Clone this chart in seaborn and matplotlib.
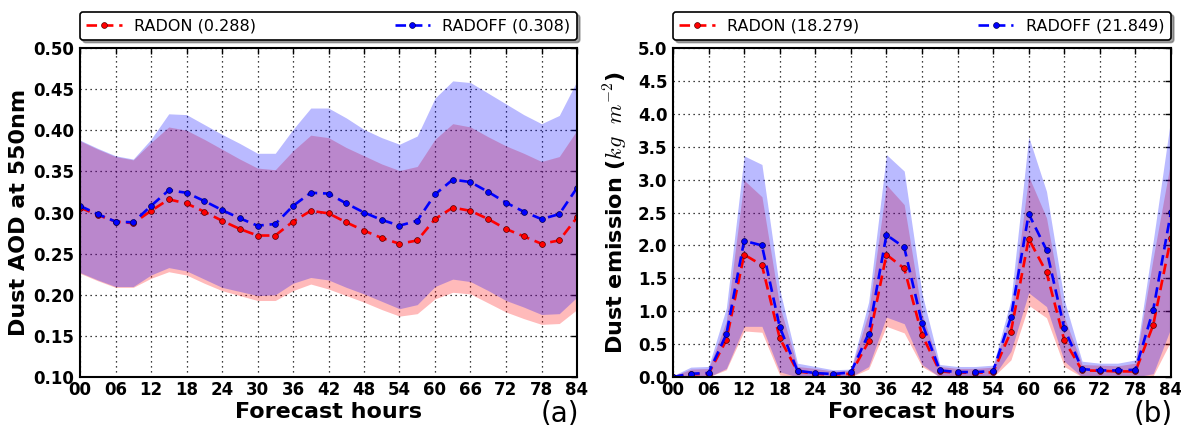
import numpy as np
import matplotlib
matplotlib.use("Agg")
import matplotlib.pyplot as plt
import seaborn as sns

# forecast hours, every 3 h
hours = list(range(0, 85, 3))
xticks = list(range(0, 85, 6))
xticklabels = ["%02d" % h for h in xticks]

# (a) dust AOD at 550nm
aod_radon = [0.306, 0.297, 0.289, 0.287, 0.302, 0.316, 0.311, 0.301, 0.290, 0.280,
             0.272, 0.272, 0.289, 0.302, 0.299, 0.288, 0.278, 0.269, 0.262, 0.266,
             0.292, 0.306, 0.302, 0.292, 0.280, 0.271, 0.262, 0.266, 0.294]
aod_radoff = [0.308, 0.298, 0.289, 0.288, 0.308, 0.327, 0.324, 0.314, 0.303, 0.293,
              0.284, 0.286, 0.308, 0.324, 0.323, 0.311, 0.300, 0.291, 0.284, 0.290,
              0.322, 0.340, 0.337, 0.325, 0.312, 0.301, 0.292, 0.298, 0.330]
aod_radon_hi = [0.387, 0.377, 0.368, 0.364, 0.385, 0.404, 0.400, 0.389, 0.377, 0.365,
                0.354, 0.352, 0.375, 0.394, 0.391, 0.379, 0.369, 0.359, 0.351, 0.356,
                0.389, 0.408, 0.404, 0.392, 0.381, 0.372, 0.362, 0.368, 0.400]
aod_radon_lo = [0.226, 0.217, 0.209, 0.209, 0.220, 0.228, 0.224, 0.214, 0.205, 0.199,
                0.193, 0.193, 0.205, 0.213, 0.207, 0.199, 0.191, 0.182, 0.174, 0.177,
                0.195, 0.203, 0.201, 0.190, 0.179, 0.171, 0.164, 0.165, 0.182]
aod_radoff_hi = [0.388, 0.378, 0.369, 0.365, 0.389, 0.420, 0.419, 0.407, 0.395, 0.384,
                 0.372, 0.372, 0.401, 0.427, 0.427, 0.415, 0.401, 0.391, 0.383, 0.393,
                 0.439, 0.460, 0.458, 0.445, 0.432, 0.419, 0.408, 0.418, 0.460]
aod_radoff_lo = [0.227, 0.218, 0.210, 0.210, 0.224, 0.233, 0.229, 0.219, 0.209, 0.204,
                 0.199, 0.200, 0.214, 0.221, 0.218, 0.209, 0.201, 0.192, 0.183, 0.188,
                 0.210, 0.219, 0.216, 0.205, 0.193, 0.185, 0.176, 0.177, 0.197]

# (b) dust emission
emi_radon = [0.0, 0.04, 0.05, 0.56, 1.86, 1.70, 0.59, 0.085, 0.05, 0.035,
             0.05, 0.54, 1.86, 1.65, 0.64, 0.085, 0.065, 0.065, 0.07, 0.69,
             2.10, 1.59, 0.56, 0.10, 0.095, 0.085, 0.085, 0.79, 2.12]
emi_radoff = [0.0, 0.05, 0.06, 0.65, 2.07, 2.00, 0.76, 0.095, 0.06, 0.045,
              0.07, 0.66, 2.16, 1.97, 0.82, 0.10, 0.075, 0.075, 0.09, 0.91,
              2.48, 1.93, 0.74, 0.12, 0.10, 0.10, 0.11, 1.02, 2.51]
emi_radon_hi = [0.01, 0.12, 0.13, 0.85, 2.99, 2.74, 1.08, 0.16, 0.13, 0.09,
                0.10, 0.98, 2.92, 2.62, 0.96, 0.16, 0.13, 0.13, 0.15, 0.96,
                3.05, 2.42, 0.91, 0.19, 0.18, 0.17, 0.21, 1.81, 3.30]
emi_radon_lo = [0, 0, 0, 0.11, 0.70, 0.68, 0.03, 0, 0, 0,
                0, 0.12, 0.77, 0.67, 0.16, 0, 0, 0, 0, 0.26,
                1.09, 0.90, 0.16, 0, 0, 0, 0, 0.02, 0.55]
emi_radoff_hi = [0.02, 0.15, 0.16, 1.05, 3.36, 3.23, 1.33, 0.21, 0.16, 0.11,
                 0.12, 1.14, 3.38, 3.13, 1.27, 0.19, 0.16, 0.16, 0.18, 1.17,
                 3.65, 2.82, 1.17, 0.24, 0.21, 0.21, 0.26, 2.07, 3.95]
emi_radoff_lo = [0, 0, 0, 0.13, 0.77, 0.77, 0.08, 0, 0, 0,
                 0, 0.16, 0.91, 0.81, 0.19, 0, 0, 0, 0, 0.39,
                 1.28, 1.07, 0.24, 0, 0, 0, 0, 0.05, 0.75]

sns.set_style("white")
plt.rcParams["font.family"] = ["DejaVu Sans"]
plt.rcParams["mathtext.fontset"] = "cm"
plt.rcParams["text.color"] = "black"
plt.rcParams["axes.labelcolor"] = "black"
plt.rcParams["xtick.color"] = "black"
plt.rcParams["ytick.color"] = "black"

fig = plt.figure(figsize=(11.81, 4.25), dpi=100)
ax1 = fig.add_axes([80 / 1181, 48 / 425, 497 / 1181, 329 / 425])
ax2 = fig.add_axes([673 / 1181, 48 / 425, 498 / 1181, 329 / 425])


def draw(ax, on, off, on_lo, on_hi, off_lo, off_hi, lab_on, lab_off):
    ax.fill_between(hours, on_lo, on_hi, color="red", alpha=0.27, lw=0)
    ax.fill_between(hours, off_lo, off_hi, color="blue", alpha=0.27, lw=0)
    sns.lineplot(x=hours, y=on, ax=ax, color="red", linestyle=(0, (4, 2.2)), lw=1.9,
                 marker="o", markersize=4.2, mec="#550000", mew=0.5, label=lab_on)
    sns.lineplot(x=hours, y=off, ax=ax, color="blue", linestyle=(0, (4, 2.2)), lw=1.9,
                 marker="o", markersize=4.2, mec="#000055", mew=0.5, label=lab_off)
    ax.set_xlim(0, 84)
    ax.set_xticks(xticks)
    ax.set_xticklabels(xticklabels)
    ax.grid(True, color="k", linestyle=(0, (1, 3)), linewidth=0.9)
    ax.tick_params(direction="in", top=True, right=True, length=4, width=1,
                   labelsize=12, pad=4, colors="black")
    ax.tick_params(axis="x", pad=3)
    for t in ax.get_xticklabels() + ax.get_yticklabels():
        t.set_fontweight("bold")
    for s in ax.spines.values():
        s.set_linewidth(1.5)
        s.set_color("k")
    ax.set_xlabel("Forecast hours", fontsize=16, fontweight="bold", labelpad=2)
    leg = ax.legend(loc="lower left", bbox_to_anchor=(0, 1.025, 1, 0.075), ncol=2,
                    mode="expand", borderaxespad=0, fontsize=11.5, numpoints=1,
                    handlelength=2.2, fancybox=True, shadow=True, framealpha=1,
                    edgecolor="k")
    leg.get_frame().set_linewidth(1.2)
    for t in leg.get_texts():
        t.set_color("black")


draw(ax1, aod_radon, aod_radoff, aod_radon_lo, aod_radon_hi, aod_radoff_lo, aod_radoff_hi,
     "RADON (0.288)", "RADOFF (0.308)")
ax1.set_ylim(0.10, 0.50)
ax1.set_yticks(np.arange(0.10, 0.501, 0.05))
ax1.set_yticklabels(["%.2f" % v for v in np.arange(0.10, 0.501, 0.05)], fontweight="bold")
ax1.set_ylabel("Dust AOD at 550nm", fontsize=16, fontweight="bold", labelpad=3)
ax1.text(0.965, -0.11, "(a)", transform=ax1.transAxes, fontsize=20, ha="center", va="center")

draw(ax2, emi_radon, emi_radoff, emi_radon_lo, emi_radon_hi, emi_radoff_lo, emi_radoff_hi,
     "RADON (18.279)", "RADOFF (21.849)")
ax2.set_ylim(0, 5.0)
ax2.set_yticks(np.arange(0, 5.01, 0.5))
ax2.set_yticklabels(["%.1f" % v for v in np.arange(0, 5.01, 0.5)], fontweight="bold")
ax2.set_ylabel(r"Dust emission ($kg\ \ m^{-2}$)", fontsize=16, fontweight="bold", labelpad=6)
ax2.text(0.965, -0.11, "(b)", transform=ax2.transAxes, fontsize=20, ha="center", va="center")

fig.savefig("out.png", dpi=100)
